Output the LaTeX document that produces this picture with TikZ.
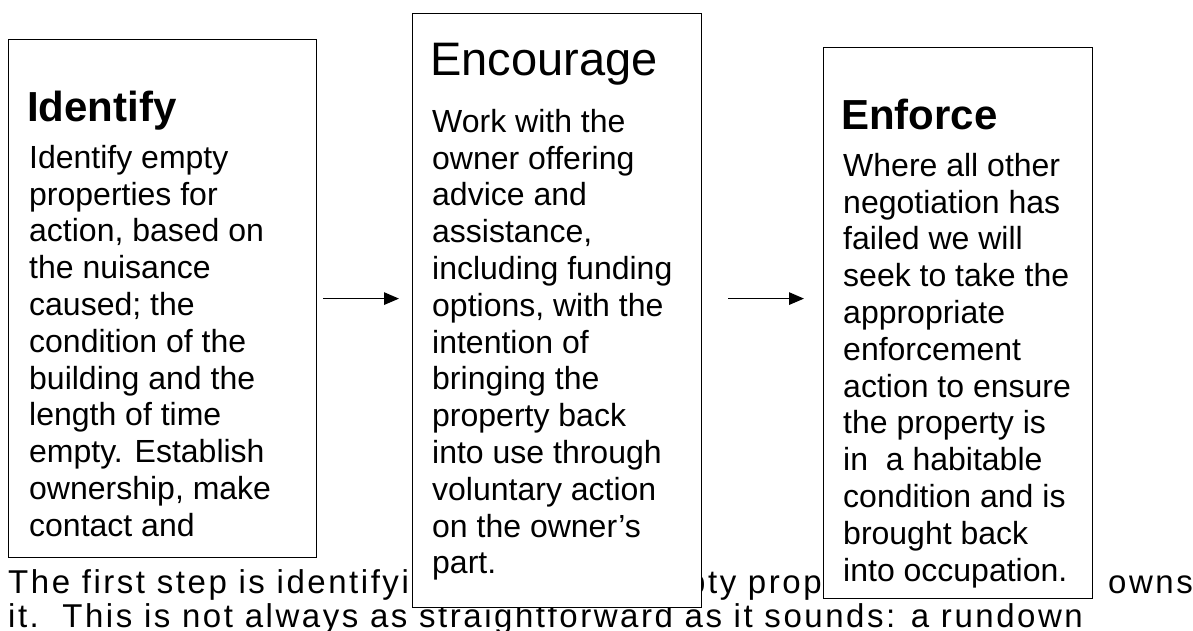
\documentclass[tikz,border=0pt]{standalone}
\usepackage{fontspec}
\setmainfont{Liberation Sans}
\newfontfamily\spacedfont[LetterSpace=7.7]{Liberation Sans}
\usetikzlibrary{positioning,arrows.meta}

\begin{document}
\begin{tikzpicture}[
    x=1pt, y=-1pt,
    stage/.style={draw, line width=1.2pt, fill=white, anchor=north west, inner sep=0pt},
    ttl/.style={anchor=base west, inner sep=0pt, font=\fontsize{42}{48}\selectfont\bfseries},
    txt/.style={anchor=north west, inner sep=0pt, align=left, font=\fontsize{32}{36.8}\selectfont},
    run/.style={anchor=base west, inner sep=0pt, font=\spacedfont\fontsize{33}{35}\selectfont},
    arr/.style={-{Triangle[length=15pt, width=12.5pt]}, line width=1.3pt},
  ]
  \useasboundingbox[fill=white] (0,0) rectangle (1193,631);

  % --- running text behind the boxes ---
  \node[run] (runa) at (8,593) {The first step is identifyi};
  \node[run] (runb) at (687,593) {pty prop};
  \node[run] (runc) at (1108,593) {owns};
  \node[run] (rund) at (8,627) {it.\ \ This is not always as straightforward as it sounds: a rundown};

  % --- Identify ---
  \node[stage, minimum width=308pt, minimum height=518pt] (idbox) at (8,39) {};
  \node[ttl] (idttl) at (27,122) {Identify};
  \node[txt] (idtxt) at (29,145) {Identify empty\\properties for\\action, based on\\the nuisance\\caused; the\\condition of the\\building and the\\length of time\\empty. Establish\\ownership, make\\contact and};

  % --- Encourage ---
  \node[stage, minimum width=289pt, minimum height=594pt] (encbox) at (412,13) {};
  \node[ttl, font=\fontsize{47}{54}\selectfont] (encttl) at (430,76) {Encourage};
  \node[txt] (enctxt) at (432,109) {Work with the\\owner offering\\advice and\\assistance,\\including funding\\options, with the\\intention of\\bringing the\\property back\\into use through\\voluntary action\\on the owner’s\\part.};

  % --- Enforce ---
  \node[stage, minimum width=269pt, minimum height=551pt] (enfbox) at (823,47) {};
  \node[ttl] (enfttl) at (841,130) {Enforce};
  \node[txt] (enftxt) at (843,153) {Where all other\\negotiation has\\failed we will\\seek to take the\\appropriate\\enforcement\\action to ensure\\the property is\\in\ \ a habitable\\condition and is\\brought back\\into occupation.};

  % --- arrows ---
  \draw[arr, shorten <=6pt, shorten >=13pt] (idbox.east) -- (idbox.east -| encbox.west);
  \draw[arr, shorten <=26pt, shorten >=19pt] (idbox.east -| encbox.east) -- (idbox.east -| enfbox.west);
\end{tikzpicture}
\end{document}
